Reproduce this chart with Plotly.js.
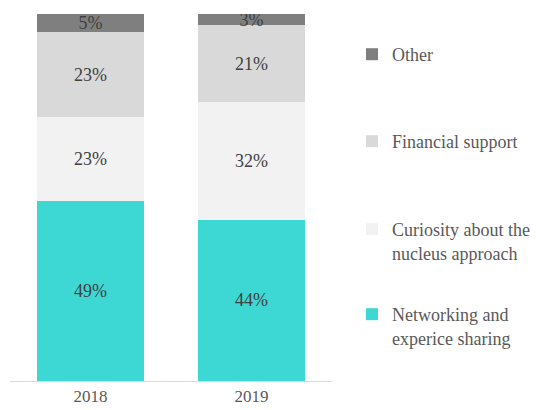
<!DOCTYPE html>
<html>
<head>
<meta charset="utf-8">
<script src="https://cdn.plot.ly/plotly-3.0.1.min.js"></script>
<style>html,body{margin:0;padding:0;background:#fff}#chart{width:536px;height:410px}</style>
</head>
<body>
<div id="chart"></div>
<script>
var years = ['2018', '2019'];
var networking = [49, 44];
var curiosity = [23, 32];
var financial = [23, 21];
var other = [5, 3];
var seriesNames = ['Networking and<br>experice sharing', 'Curiosity about the<br>nucleus approach', 'Financial support', 'Other'];
var seriesColors = ['#3ed8d4', '#f2f2f2', '#d9d9d9', '#7f7f7f'];
var seriesValues = [networking, curiosity, financial, other];
var legendIds = ['legend4', 'legend3', 'legend2', 'legend'];

var serif = '"Liberation Serif", "Times New Roman", serif';
var traces = seriesValues.map(function (vals, i) {
  return {
    type: 'bar',
    name: seriesNames[i],
    x: years,
    y: vals,
    legend: legendIds[i],
    marker: { color: seriesColors[i] },
    text: vals.map(function (v) { return v + '%'; }),
    textposition: 'inside',
    insidetextanchor: 'middle',
    constraintext: 'none',
    textfont: { family: serif, size: 18, color: '#404040' },
    hoverinfo: 'none'
  };
});

function leg(yPx) {
  return {
    xref: 'container', yref: 'container',
    x: 352 / 536, y: 1 - yPx / 410,
    xanchor: 'left', yanchor: 'top',
    valign: 'top',
    bgcolor: 'rgba(0,0,0,0)',
    font: { family: serif, size: 18, color: '#595959' },
    itemclick: false, itemdoubleclick: false
  };
}

var layout = {
  width: 536, height: 410,
  margin: { l: 10, r: 204, t: 14, b: 29 },
  paper_bgcolor: '#ffffff', plot_bgcolor: '#ffffff',
  barmode: 'stack',
  bargap: 0.33,
  showlegend: true,
  legend: leg(36),
  legend2: leg(123),
  legend3: leg(211),
  legend4: leg(296),
  xaxis: {
    type: 'category',
    range: [-0.5, 1.5],
    showline: true, linecolor: '#d9d9d9', linewidth: 1,
    showgrid: false, zeroline: false,
    ticks: '',
    tickfont: { family: serif, size: 17, color: '#595959' }
  },
  yaxis: {
    range: [0, 100],
    visible: false,
    showgrid: false, zeroline: false
  }
};

Plotly.newPlot('chart', traces, layout, { displayModeBar: false, staticPlot: true });
</script>
</body>
</html>
